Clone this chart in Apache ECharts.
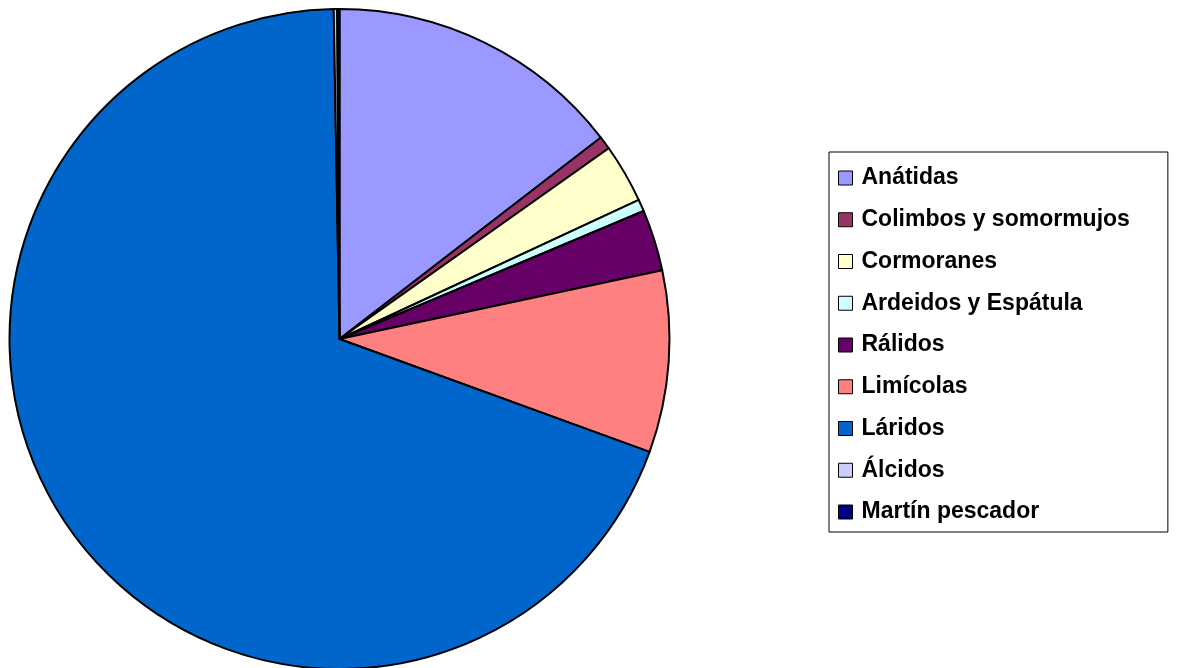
<!DOCTYPE html>
<html>
<head>
<meta charset="utf-8">
<style>
  html, body { margin: 0; padding: 0; background: #fff; }
  #chart { width: 1182px; height: 668px; }
</style>
<script src="https://cdn.jsdelivr.net/npm/echarts@6/dist/echarts.min.js"></script>
</head>
<body>
<div id="chart"></div>
<script>
// grupos de aves, en el orden del gráfico (sentido horario desde arriba)
const categories = ['Anátidas', 'Colimbos y somormujos', 'Cormoranes', 'Ardeidos y Espátula',
  'Rálidos', 'Limícolas', 'Láridos', 'Álcidos', 'Martín pescador']
// porcentaje de cada grupo
const values = [14.55, 0.64, 2.89, 0.58, 3.0, 8.9, 69.17, 0.17, 0.11]
const colors = ['#9999ff', '#993366', '#ffffcc', '#ccffff', '#660066', '#ff8080', '#0066cc', '#ccccff', '#000080']

const chart = echarts.init(document.getElementById('chart'))

chart.setOption({
  animation: false,
  color: colors,
  legend: {
    orient: 'vertical',
    left: 829,
    top: 152,
    padding: [14, 38, 8, 9],
    borderColor: '#000',
    borderWidth: 1,
    itemWidth: 14,
    itemHeight: 14,
    itemGap: 17.75,
    icon: 'rect',
    selectedMode: false,
    itemStyle: {
      borderColor: '#000',
      borderWidth: 1
    },
    textStyle: {
      fontFamily: 'Liberation Sans, Arial, sans-serif',
      fontWeight: 'bold',
      fontSize: 23,
      lineHeight: 24,
      color: '#000',
      padding: [0, 0, 0, 4]
    },
    data: categories
  },
  series: [{
    type: 'pie',
    center: [339.5, 339],
    radius: 330,
    startAngle: 90,
    clockwise: true,
    label: { show: false },
    labelLine: { show: false },
    emphasis: { disabled: true },
    itemStyle: {
      borderColor: '#000',
      borderWidth: 2
    },
    data: categories.map((name, i) => ({ name, value: values[i] }))
  }]
})
</script>
</body>
</html>
